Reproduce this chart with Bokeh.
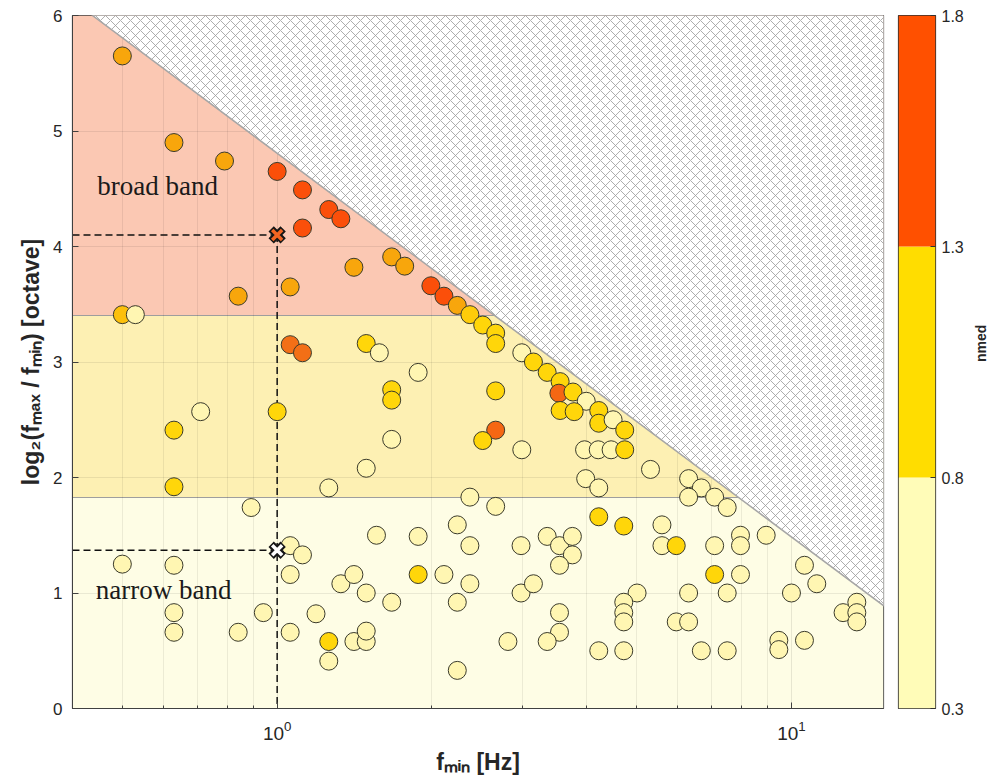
import math
import numpy as np
from bokeh.plotting import figure
from bokeh.layouts import row
from bokeh.models import (ColumnDataSource, LinearColorMapper, FixedTicker, Range1d,
                          LogTickFormatter)
from bokeh.core.properties import value
from bokeh.embed import file_html
from bokeh.resources import INLINE

# ---- events: lowest frequency, bandwidth in octaves, nmed ----
fmin = [0.50, 0.63, 0.79, 1.00, 1.12, 1.26, 1.33, 1.12, 1.41, 1.67,
        1.77, 1.06, 1.99, 2.11, 2.24, 0.84, 0.50, 0.53, 2.37, 2.51,
        2.66, 2.66, 1.06, 1.12, 1.49, 1.58, 1.88, 1.67, 1.67, 2.66,
        2.99, 3.15, 3.35, 3.55, 3.53, 3.76, 3.99, 3.55, 3.78, 4.22,
        4.22, 4.50, 4.74, 3.96, 4.21, 4.46, 4.74, 5.32, 3.98, 4.22,
        2.66, 2.51, 1.67, 2.99, 0.71, 0.63, 1.00, 1.49, 0.63, 1.26,
        2.37, 6.31, 6.68, 6.31, 7.09, 7.50, 2.66, 2.24, 4.22, 4.72,
        5.60, 5.60, 5.97, 7.09, 7.96, 7.96, 8.93, 7.09, 7.96, 10.6,
        11.2, 5.01, 4.72, 4.72, 4.72, 6.31, 7.50, 10.0, 5.97, 6.31,
        12.6, 13.4, 13.4, 13.4, 4.72, 6.68, 7.50, 9.45, 9.45, 10.6,
        4.22, 0.89, 1.56, 1.06, 1.12, 1.06, 0.50, 0.63, 0.63, 0.63,
        0.84, 0.94, 1.06, 1.19, 1.26, 1.26, 1.33, 1.41, 1.49, 1.41,
        1.49, 1.49, 1.88, 2.37, 2.98, 3.35, 3.54, 3.75, 3.75, 3.54,
        1.88, 2.11, 2.37, 2.24, 1.67, 2.98, 3.15, 3.54, 3.54, 3.35,
        2.81, 2.24]
octave = [5.65, 4.90, 4.74, 4.65, 4.49, 4.32, 4.24, 4.16, 3.82, 3.91,
          3.83, 3.65, 3.66, 3.57, 3.49, 3.57, 3.41, 3.41, 3.41, 3.32,
          3.25, 3.16, 3.15, 3.08, 3.16, 3.08, 2.91, 2.76, 2.67, 2.75,
          3.08, 3.00, 2.91, 2.83, 2.73, 2.74, 2.66, 2.58, 2.57, 2.58,
          2.47, 2.50, 2.41, 2.24, 2.24, 2.24, 2.24, 2.07, 1.99, 1.91,
          2.41, 2.32, 2.33, 2.24, 2.57, 2.41, 2.57, 2.08, 1.92, 1.91,
          1.83, 1.99, 1.91, 1.83, 1.83, 1.74, 1.75, 1.59, 1.66, 1.58,
          1.59, 1.41, 1.41, 1.41, 1.50, 1.41, 1.50, 1.16, 1.16, 1.24,
          1.08, 1.00, 0.92, 0.83, 0.75, 1.00, 1.00, 1.00, 0.75, 0.75,
          0.83, 0.92, 0.83, 0.75, 0.50, 0.50, 0.50, 0.59, 0.51, 0.59,
          0.50, 1.74, 1.50, 1.41, 1.33, 1.16, 1.25, 1.24, 0.83, 0.66,
          0.66, 0.83, 0.66, 0.82, 0.58, 0.41, 1.08, 1.16, 1.00, 0.58,
          0.58, 0.67, 1.49, 1.41, 1.41, 1.49, 1.41, 1.49, 1.33, 1.24,
          1.16, 1.16, 1.08, 0.92, 0.92, 1.00, 1.08, 0.83, 0.66, 0.58,
          0.58, 0.33]
nmed = [1.25, 1.25, 1.25, 1.65, 1.65, 1.65, 1.65, 1.65, 1.25, 1.25,
        1.25, 1.25, 1.65, 1.65, 1.25, 1.25, 1.12, 0.60, 1.05, 1.00,
        1.00, 1.00, 1.45, 1.45, 1.00, 0.60, 0.60, 1.00, 1.00, 1.00,
        0.60, 1.00, 1.00, 1.00, 1.50, 1.00, 0.60, 1.00, 1.00, 1.00,
        1.00, 0.60, 1.00, 0.60, 0.60, 0.60, 1.00, 0.60, 0.60, 0.60,
        1.50, 1.00, 0.60, 0.60, 0.60, 1.00, 1.00, 0.60, 1.00, 0.60,
        0.60, 0.60, 0.60, 0.60, 0.60, 0.60, 0.60, 0.60, 1.00, 1.00,
        0.60, 0.60, 1.00, 0.60, 0.60, 0.60, 0.60, 1.00, 0.60, 0.60,
        0.60, 0.60, 0.60, 0.60, 0.60, 0.60, 0.60, 0.60, 0.60, 0.60,
        0.60, 0.60, 0.60, 0.60, 0.60, 0.60, 0.60, 0.60, 0.60, 0.60,
        0.60, 0.60, 0.60, 0.60, 0.60, 0.60, 0.60, 0.60, 0.60, 0.60,
        0.60, 0.60, 0.60, 0.60, 1.00, 0.60, 0.60, 0.60, 0.60, 0.60,
        0.60, 0.60, 0.60, 0.60, 0.60, 0.60, 0.60, 0.60, 0.60, 0.60,
        1.00, 0.60, 0.60, 0.60, 0.60, 0.60, 0.60, 0.60, 0.60, 0.60,
        0.60, 0.60]

# bandwidth classes (octaves)
band_bottom = [0.0, 1.83, 3.4]
band_top = [1.83, 3.4, 6.0]
band_colors = ["#FEFDE5", "#FDF0B3", "#FBC8B3"]
band_edges = [1.83, 3.4]

# highest analysed frequency (Hz): fmax/fmin cannot exceed this
fmax_limit = 28.0

# two reference events marked with crosses
ref_fmin = [1.0, 1.0]
ref_octave = [4.10, 1.37]
ref_fill = ["#F26522", "#FFFFFF"]

# axis ticks
x_major = [1, 10]
x_minor = [0.4, 0.5, 0.6, 0.7, 0.8, 0.9, 2, 3, 4, 5, 6, 7, 8, 9, 20]
y_major = [0, 1, 2, 3, 4, 5, 6]

# colour bar classes
cbar_edges = [0.3, 0.8, 1.3, 1.8]
cbar_colors = ["#FFFCB8", "#FFDD00", "#FF5000"]

# continuous colour scale for the markers
anchor_vals = [0.3, 0.6, 1.0, 1.25, 1.45, 1.65, 1.8]
anchor_cols = ["#FFFDD2", "#FFF6B2", "#FFD60A", "#F8A70C", "#F36F16", "#FB4F0A", "#FF3C00"]


def _rgb(h):
    return [int(h[i:i + 2], 16) for i in (1, 3, 5)]


levels = np.linspace(0.3, 1.8, 256)
rgb = np.array([_rgb(c) for c in anchor_cols], dtype=float)
palette = []
for v in levels:
    r, g, b = (int(round(np.interp(v, anchor_vals, rgb[:, k]))) for k in range(3))
    palette.append("#%02X%02X%02X" % (r, g, b))
mapper = LinearColorMapper(palette=palette, low=0.3, high=1.8)

FONT = "Liberation Sans"
X0, X1 = 0.4, 15.1

p = figure(x_axis_type="log", x_range=Range1d(X0, X1), y_range=Range1d(0, 6),
           frame_width=811, frame_height=693,
           min_border_left=72, min_border_right=7, min_border_top=15, min_border_bottom=76,
           output_backend="svg", toolbar_location=None,
           background_fill_color="white", border_fill_color="white")

# bandwidth classes as horizontal strips
p.hstrip(y0=band_bottom, y1=band_top, fill_color=band_colors, line_color=None, level="image")
p.hspan(y=band_edges, line_color="#9E9E9E", line_width=1.2, level="image")

# region above fmax (not reachable)
xd = [fmax_limit / 2 ** 7, 20.0]
yd = [float(np.log2(fmax_limit / x)) for x in xd]
p.patch(x=[xd[0], xd[1], xd[1]], y=[yd[0], yd[1], yd[0]],
        fill_color="white", line_color=None,
        hatch_pattern="diagonal_cross", hatch_color="#999999", hatch_scale=10, hatch_weight=0.8)
p.line(x=xd, y=yd, line_color="#A6A6A6", line_width=1.5)

# guide lines to the reference events
p.segment(x0=[X0, X0, ref_fmin[0]], y0=[ref_octave[0], ref_octave[1], ref_octave[0]],
          x1=[ref_fmin[0], ref_fmin[1], ref_fmin[0]], y1=[ref_octave[0], ref_octave[1], 0],
          line_color="#111111", line_width=1.5, line_dash="7 4")

src = ColumnDataSource(dict(fmin=fmin, octave=octave, nmed=nmed))
p.scatter(x="fmin", y="octave", source=src, size=18,
          fill_color={"field": "nmed", "transform": mapper},
          line_color="#3A3A2A", line_width=1)

p.scatter(x=ref_fmin, y=ref_octave, marker="x", size=17, line_width=7.5, line_color="#161616")
p.scatter(x=ref_fmin, y=ref_octave, marker="x", size=14, line_width=3.5, line_color=ref_fill)

p.text(x=[0.447], y=[4.52], text=["broad band"], text_font=value("Liberation Serif"),
       text_font_size="27px", text_baseline="middle", text_color="#1A1A1A")
p.text(x=[0.444], y=[1.03], text=["narrow band"], text_font=value("Liberation Serif"),
       text_font_size="27px", text_baseline="middle", text_color="#1A1A1A")

# axes
p.xaxis.ticker = FixedTicker(ticks=x_major, minor_ticks=x_minor)
p.xaxis.formatter = LogTickFormatter(min_exponent=0)
p.yaxis.ticker = FixedTicker(ticks=y_major)

# grid
p.xgrid.grid_line_color = "black"
p.xgrid.grid_line_alpha = 0.09
p.xgrid.minor_grid_line_color = "black"
p.xgrid.minor_grid_line_alpha = 0.07
p.ygrid.grid_line_color = "black"
p.ygrid.grid_line_alpha = 0.08

p.outline_line_color = "#404040"
p.outline_line_width = 1.2
for ax in (p.xaxis[0], p.yaxis[0]):
    ax.axis_line_color = "#404040"
    ax.major_tick_line_color = "#404040"
    ax.minor_tick_line_color = "#404040"
    ax.major_tick_in = 6
    ax.major_tick_out = 0
    ax.minor_tick_in = 3
    ax.minor_tick_out = 0
    ax.major_label_text_font = FONT
    ax.major_label_text_color = "#262626"
    ax.axis_label_text_font = FONT
    ax.axis_label_text_font_style = "bold"
    ax.axis_label_text_font_size = "23px"
    ax.axis_label_text_color = "#262626"
p.yaxis.major_label_text_font_size = "17px"
p.xaxis.major_label_text_font_size = "19px"
p.yaxis.minor_tick_line_color = None
p.yaxis.major_label_standoff = 10
p.yaxis.axis_label_standoff = 6
p.xaxis.major_label_standoff = 12
p.xaxis.axis_label_standoff = 6
p.yaxis.axis_label = "log\u2082(f\u2098\u2090\u2093 / f\u2098\u1d62\u2099) [octave]"
p.xaxis.axis_label = "f\u2098\u1d62\u2099 [Hz]"

# colour bar
cb = figure(x_range=Range1d(0, 1), y_range=Range1d(0.3, 1.8),
            frame_width=37, frame_height=693,
            min_border_left=8, min_border_right=60, min_border_top=15, min_border_bottom=76,
            y_axis_location="right", output_backend="svg", toolbar_location=None,
            background_fill_color="white", border_fill_color="white")
cb.quad(left=0, right=1, bottom=cbar_edges[:-1], top=cbar_edges[1:],
        fill_color=cbar_colors, line_color=None)
cb.xaxis.visible = False
cb.grid.visible = False
cb.outline_line_color = "#303030"
cb.outline_line_width = 1.2
cbax = cb.yaxis[0]
cbax.ticker = FixedTicker(ticks=cbar_edges)
cbax.axis_line_color = None
cbax.major_tick_in = 5
cbax.major_tick_out = 0
cbax.major_tick_line_color = "#303030"
cbax.minor_tick_line_color = None
cbax.major_label_text_font = FONT
cbax.major_label_text_font_size = "16px"
cbax.major_label_text_color = "#262626"
cbax.major_label_standoff = 6
cbax.axis_label = "nmed"
cbax.axis_label_text_font = FONT
cbax.axis_label_text_font_style = "bold"
cbax.axis_label_text_font_size = "14px"
cbax.axis_label_text_color = "#262626"
cbax.axis_label_standoff = 14
if "axis_label_orientation" in cbax.properties():
    cbax.axis_label_orientation = math.pi / 2

layout = row(p, cb)
open("out.html", "w").write(file_html(layout, INLINE))
